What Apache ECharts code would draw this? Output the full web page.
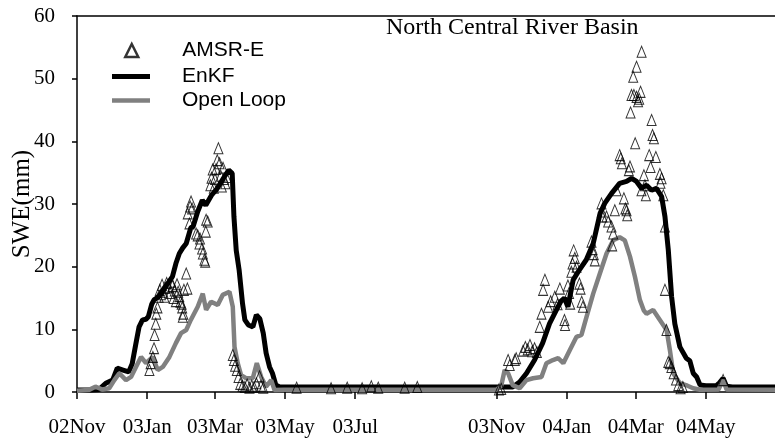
<!DOCTYPE html>
<html>
<head>
<meta charset="utf-8">
<script src="https://cdn.jsdelivr.net/npm/echarts@6/dist/echarts.min.js"></script>
<style>
  html, body { margin: 0; padding: 0; background: #fff; }
  #main { width: 775px; height: 443px; }
</style>
</head>
<body>
<div id="main"></div>
<script>
// x values are days since 2002-11-01
const tickDays = [0, 61, 120, 181, 242, 365, 426, 486, 547]
const tickLabels = ['02Nov', '03Jan', '03Mar', '03May', '03Jul', '03Nov', '04Jan', '04Mar', '04May']

// AMSR-E retrievals [day, SWE]
const amsre = [
  [63, 3.5], [64, 4.6], [66, 5.6], [67, 7.0], [67.5, 9.1], [68.5, 10.9], [69, 12.5], [70, 13.5],
  [71, 15.2], [72, 16.3], [73, 15.6], [74, 17.1], [75, 16.0], [76, 15.2], [77, 16.6], [78, 17.4],
  [80, 16.8], [81, 15.8], [82, 17.6], [83, 16.9], [84, 15.0], [85, 16.2], [86, 14.5], [87, 17.2],
  [88, 16.0], [89, 15.3], [90, 14.4], [91, 14.1], [91.5, 13.5], [92, 12.0], [92.5, 12.5], [93, 16.3],
  [95, 18.9], [96, 16.5], [96.3, 28.5], [97.8, 26.9], [98.4, 29.6], [99.2, 30.4], [100.1, 29.3],
  [103.6, 25.3], [105, 25.0], [106.5, 23.7], [107, 24.5], [108.8, 22.9], [109.5, 22.1], [110.8, 21.1],
  [111.5, 20.8], [112, 25.6], [112.3, 27.5], [113.7, 27.2],
  [116, 33.0], [117, 34.2], [118, 35.5], [119, 32.6], [120, 34.0], [121, 35.6], [122, 37.0], [123, 38.9],
  [124, 36.5], [125, 34.5], [126, 32.8], [127, 35.8], [128, 34.0], [129, 33.3], [130, 34.3],
  [135.5, 5.9], [136.5, 5.1], [137.5, 4.2], [139, 3.5], [140.5, 2.4], [142, 1.3], [144, 1.0], [146, 0.8],
  [148, 1.2], [150, 0.7], [152, 1.0], [154, 0.8], [156, 1.4], [158.8, 2.5], [160, 1.0], [162, 0.7],
  [191, 0.7], [221, 0.6], [235, 0.7], [248, 0.6], [256, 0.9], [262, 0.7], [285, 0.7], [296, 0.8],
  [367, 0.4], [369, 0.5],
  [375, 5.1], [376.4, 4.3], [380.8, 5.1], [382, 5.4], [388, 6.6], [390, 7.2], [392, 6.8], [394, 7.5],
  [396, 6.5], [398, 7.0], [400, 6.4], [402.5, 10.4], [404, 12.5], [405.4, 16.3], [407, 17.9], [409.8, 13.6],
  [412, 14.5], [415.6, 15.2], [418, 14.0], [420, 16.5], [424, 11.5], [424.5, 10.7], [427, 17.0], [428, 15.8],
  [429, 14.1], [430, 19.2], [431, 20.5], [432, 22.6], [433, 21.4], [434.5, 20.0], [437, 17.3], [438, 16.5],
  [439, 14.4], [440, 13.6], [447.5, 24.0], [448.5, 22.8], [449.5, 22.0], [450.4, 21.0], [456.2, 30.1],
  [456.5, 28.8], [457, 28.0], [460.6, 28.0], [462, 27.2], [464.9, 26.4], [465.5, 23.4], [466.4, 25.3],
  [467.8, 29.0], [469.3, 32.2], [472, 37.8], [473, 37.3], [474, 36.5], [475.7, 30.9], [477, 29.3],
  [478, 29.0], [478.6, 28.2], [480, 35.4], [481, 36.0], [481.5, 44.6], [482.3, 47.4], [483.8, 50.3],
  [484.4, 47.4], [485.5, 39.7], [486.7, 51.9], [486.7, 47.1], [488, 46.4], [489, 46.8], [490.2, 47.9],
  [491.1, 54.3], [491, 32.2], [493.1, 34.6], [494, 33.0], [494.8, 31.4], [497.7, 37.8], [498.9, 35.9],
  [499.8, 43.4], [500.6, 41.0], [501.8, 40.5], [503.5, 37.5], [507, 34.8], [507.5, 33.4], [508.5, 34.1],
  [510, 31.4], [511.4, 26.4], [511.4, 16.3], [512.7, 9.9], [514.3, 4.8], [515.6, 4.6], [517, 4.0],
  [519, 3.0], [521, 2.0], [523, 1.1], [525, 0.6], [527, 0.8], [562, 1.9]
]

// EnKF assimilation [day, SWE]
const enkf = [
  [0, 0.3], [12, 0.3], [19, 0.4], [25, 1.4], [31, 1.9], [35, 3.8], [40, 3.5], [45, 3.2], [48, 4.5],
  [51, 7.5], [54, 10.4], [57, 11.5], [60, 11.6], [62, 12.0], [65, 14.0], [67, 14.7], [71, 15.2],
  [77, 16.8], [83, 18.4], [86, 20.5], [89, 22.1], [92, 23.0], [95, 23.7], [99, 26.2], [101, 26.4],
  [105, 28.8], [109, 30.6], [112, 29.8], [117, 31.4], [122, 32.5], [128, 34.3], [132, 35.4], [135, 34.9],
  [136.5, 28.0], [138.5, 22.6], [141, 19.5], [144, 14.1], [146, 11.5], [149, 10.7], [153, 10.4],
  [156, 12.3], [159, 11.7], [162, 9.4], [164.5, 6.2], [167.5, 4.0], [170, 3.0], [173, 1.1], [176, 0.85],
  [180, 0.8], [260, 0.8], [340, 0.8], [376, 0.8],
  [379, 0.8], [385, 1.6], [391, 3.0], [398, 5.1], [405, 7.8], [411, 10.9], [417, 13.1], [421, 14.5],
  [424, 15.0], [427, 13.6], [431.6, 17.9], [437, 19.5], [443, 21.1], [449, 23.7], [455, 28.5], [459, 30.1],
  [465, 31.7], [472, 33.3], [478, 33.6], [482.4, 34.1], [486.7, 33.6], [491, 32.5], [495.4, 33.0],
  [499.8, 32.2], [504, 32.5], [508.5, 31.2], [511.4, 28.0], [514.3, 22.7], [517.2, 15.2], [520, 10.9],
  [524.4, 7.2], [530, 5.4], [533, 5.0], [536, 3.0], [539, 2.4], [542, 1.1], [547, 1.0], [556, 1.0],
  [559, 1.5], [562, 2.2], [565, 0.9], [570, 0.8], [608, 0.8]
]

// Open Loop run [day, SWE]
const openLoop = [
  [0, 0.2], [10, 0.3], [16, 0.85], [22, 0.4], [28, 0.6], [32.5, 1.9], [36.8, 3.0], [42.6, 1.9],
  [47, 2.4], [51.3, 4.0], [55.7, 5.6], [60, 4.6], [65.8, 5.6], [70.2, 3.5], [74.6, 4.0], [80.4, 5.6],
  [86, 7.8], [90.5, 9.4], [95, 9.9], [99, 11.5], [105, 13.6], [109.4, 15.7], [112.3, 13.1], [116.6, 14.4],
  [122.4, 13.9], [126.8, 15.5], [132.6, 16.0], [135.5, 13.6], [137, 7.2], [139.8, 4.6], [142.7, 2.7],
  [147, 2.2], [152.9, 2.2], [156.4, 4.6], [160.2, 2.4], [164.5, 0.85], [168.9, 1.9], [171.8, 0.3],
  [180, 0.35], [365, 0.35], [369, 1.0], [372, 3.5], [375, 3.0], [379, 1.1], [385, 0.6], [391, 1.9],
  [396.7, 2.2], [404, 2.4], [408.3, 4.6], [414, 5.1], [418.5, 5.4], [423, 4.6], [428.7, 6.7],
  [434.5, 8.8], [438.8, 9.1], [443.2, 12.0], [449, 15.7], [454.8, 18.9], [460.6, 22.1], [466.4, 24.2],
  [472, 24.7], [476.5, 24.2], [481, 21.6], [485.3, 18.4], [489.6, 14.7], [493, 13.0], [495.4, 12.5],
  [501.2, 13.1], [507, 11.5], [512.8, 9.9], [515.7, 6.7], [518.6, 3.0], [524.4, 1.4], [531, 1.0],
  [536, 0.6], [542, 0.35], [558, 0.4], [562, 1.9], [565, 0.4], [608, 0.35]
]

var serif = 'Liberation Serif'
var sans = 'Liberation Sans'
var axisLine = { show: true, onZero: false, lineStyle: { color: '#000', width: 1.5 } }

var myChart = echarts.init(document.getElementById('main'))
var option = {
  animation: false,
  backgroundColor: '#fff',
  title: {
    text: 'North Central River Basin',
    left: 386,
    top: 16,
    padding: 0,
    textStyle: { fontFamily: serif, fontSize: 24, fontWeight: 'normal', color: '#000' }
  },
  legend: [
    {
      data: ['AMSR-E'],
      left: 124, top: 40, padding: 0,
      icon: 'triangle', itemWidth: 13, itemHeight: 13,
      itemStyle: { color: '#fff', borderColor: '#000', borderWidth: 2.5 },
      selectedMode: false,
      textStyle: { fontFamily: sans, fontSize: 21, color: '#000', padding: [0, 0, 0, 39] }
    },
    {
      data: ['EnKF'],
      left: 112, top: 66, padding: 0,
      icon: 'rect', itemWidth: 38, itemHeight: 5,
      itemStyle: { color: '#000' },
      selectedMode: false,
      textStyle: { fontFamily: sans, fontSize: 21, color: '#000', padding: [0, 0, 0, 27] }
    },
    {
      data: ['Open Loop'],
      left: 112, top: 90, padding: 0,
      icon: 'rect', itemWidth: 38, itemHeight: 4.5,
      itemStyle: { color: '#808080' },
      selectedMode: false,
      textStyle: { fontFamily: sans, fontSize: 21, color: '#000', padding: [0, 0, 0, 27] }
    }
  ],
  grid: { left: 77, right: -1, top: 16, bottom: 51, outerBoundsMode: 'none' },
  xAxis: [
    {
      type: 'value', min: 0, max: 608,
      axisLine: axisLine,
      axisTick: { show: true, customValues: tickDays, length: 7, lineStyle: { color: '#000', width: 1.5 } },
      axisLabel: {
        customValues: tickDays,
        margin: 25,
        fontFamily: serif, fontSize: 21, color: '#000',
        formatter: function (v) { return tickLabels[tickDays.indexOf(v)] }
      },
      splitLine: { show: false }
    },
    {
      type: 'value', min: 0, max: 608, position: 'top',
      axisLine: axisLine,
      axisTick: { show: false }, axisLabel: { show: false }, splitLine: { show: false }
    }
  ],
  yAxis: {
    type: 'value', min: 0, max: 60, interval: 10,
    name: 'SWE(mm)', nameLocation: 'middle', nameGap: 42, nameRotate: 90,
    nameMoveOverlap: false,
    nameTextStyle: { fontFamily: serif, fontSize: 25, color: '#000' },
    axisLine: axisLine,
    axisTick: { show: true, length: 5, lineStyle: { color: '#000', width: 1.5 } },
    axisLabel: { margin: 22, fontFamily: serif, fontSize: 21, color: '#000' },
    splitLine: { show: false }
  },
  series: [
    {
      name: 'EnKF', type: 'line', data: enkf, symbol: 'none',
      lineStyle: { color: '#000', width: 5 }, itemStyle: { color: '#000' }, z: 2
    },
    {
      name: 'Open Loop', type: 'line', data: openLoop, symbol: 'none',
      lineStyle: { color: '#808080', width: 4.5 }, itemStyle: { color: '#808080' }, z: 3
    },
    {
      name: 'AMSR-E', type: 'scatter', data: amsre,
      symbol: 'triangle', symbolSize: [9, 11],
      itemStyle: { color: 'rgba(255,255,255,0)', borderColor: '#000', borderWidth: 1 }, z: 4
    }
  ]
}
myChart.setOption(option)
</script>
</body>
</html>
